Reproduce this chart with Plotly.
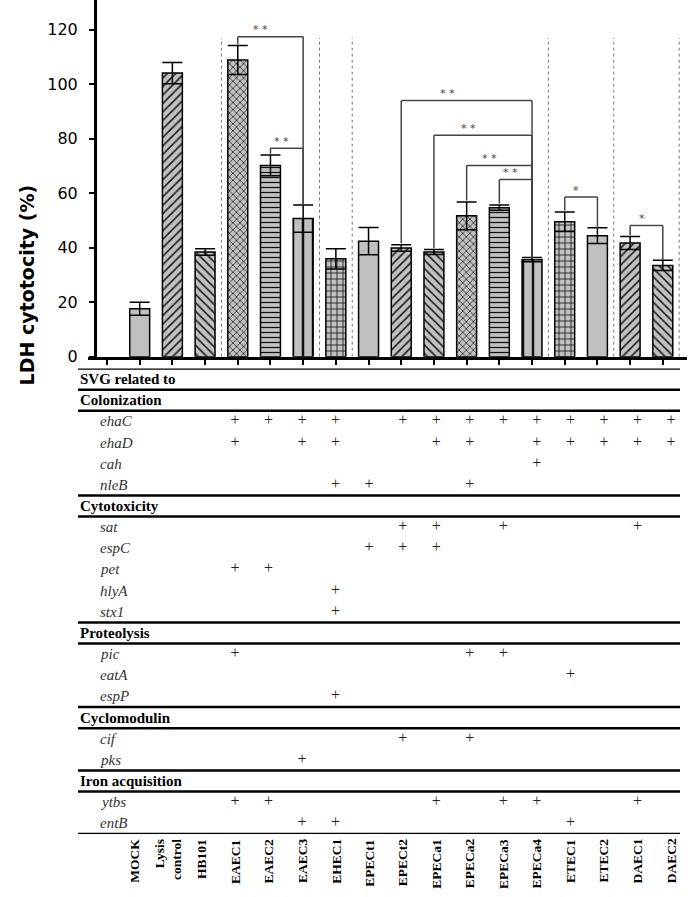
import plotly.graph_objects as go

# ---------------- data ----------------
strains = ["MOCK", "Lysis control", "HB101", "EAEC1", "EAEC2", "EAEC3", "EHEC1",
           "EPECt1", "EPECt2", "EPECa1", "EPECa2", "EPECa3", "EPECa4",
           "ETEC1", "ETEC2", "DAEC1", "DAEC2"]
strain_labels = ["MOCK", "Lysis<br>control", "HB101", "EAEC1", "EAEC2", "EAEC3", "EHEC1",
                 "EPECt1", "EPECt2", "EPECa1", "EPECa2", "EPECa3", "EPECa4",
                 "ETEC1", "ETEC2", "DAEC1", "DAEC2"]
ldh = [17.6, 104.1, 38.4, 108.9, 70.2, 50.7, 35.9,
       42.4, 39.9, 38.4, 51.7, 54.7, 35.6,
       49.5, 44.4, 41.7, 33.5]
ldh_err = [2.4, 3.9, 1.2, 5.3, 3.8, 5.0, 3.7,
           5.0, 1.2, 0.9, 5.1, 1.0, 0.8,
           3.6, 2.9, 2.4, 1.9]
patterns = ["", "/", "\\", "x", "-", "|", "+",
            "", "/", "\\", "x", "-", "|",
            "+", "", "/", "\\"]

# group separators (between strains)
separators_after = ["HB101", "EAEC3", "EHEC1", "EPECa4", "ETEC2", "DAEC2"]

# significance comparisons: (left, right, bracket height, label)
comparisons = [
    ("EAEC1", "EAEC3", 117.4, "* *"),
    ("EAEC2", "EAEC3", 76.5, "* *"),
    ("EPECt2", "EPECa4", 94.0, "* *"),
    ("EPECa1", "EPECa4", 81.3, "* *"),
    ("EPECa2", "EPECa4", 70.2, "* *"),
    ("EPECa3", "EPECa4", 65.0, "* *"),
    ("ETEC1", "ETEC2", 58.6, "*"),
    ("DAEC1", "DAEC2", 48.1, "*"),
]

# gene table: sections -> genes -> strains carrying "+"
table = [
    ("Colonization", [
        ("ehaC", ["EAEC1", "EAEC2", "EAEC3", "EHEC1", "EPECt2", "EPECa1", "EPECa2",
                  "EPECa3", "EPECa4", "ETEC1", "ETEC2", "DAEC1", "DAEC2"]),
        ("ehaD", ["EAEC1", "EAEC3", "EHEC1", "EPECa1", "EPECa2", "EPECa4",
                  "ETEC1", "ETEC2", "DAEC1", "DAEC2"]),
        ("cah", ["EPECa4"]),
        ("nleB", ["EHEC1", "EPECt1", "EPECa2"]),
    ]),
    ("Cytotoxicity", [
        ("sat", ["EPECt2", "EPECa1", "EPECa3", "DAEC1"]),
        ("espC", ["EPECt1", "EPECt2", "EPECa1"]),
        ("pet", ["EAEC1", "EAEC2"]),
        ("hlyA", ["EHEC1"]),
        ("stx1", ["EHEC1"]),
    ]),
    ("Proteolysis", [
        ("pic", ["EAEC1", "EPECa2", "EPECa3"]),
        ("eatA", ["ETEC1"]),
        ("espP", ["EHEC1"]),
    ]),
    ("Cyclomodulin", [
        ("cif", ["EPECt2", "EPECa2"]),
        ("pks", ["EAEC3"]),
    ]),
    ("Iron acquisition", [
        ("ytbs", ["EAEC1", "EAEC2", "EPECa1", "EPECa3", "EPECa4", "DAEC1"]),
        ("entB", ["EAEC3", "EHEC1", "ETEC1"]),
    ]),
]
table_title = "SVG related to"
y_ticks = [0, 20, 40, 60, 80, 100, 120]

# ---------------- layout constants ----------------
W, H = 688, 897
GRAY = "#c0c0c0"
def px_x(p):
    return p / W
def px_y(p):
    return 1 - p / H

pos = {s: i + 1 for i, s in enumerate(strains)}
xs = [pos[s] for s in strains]

fig = go.Figure()

fig.add_trace(go.Bar(
    x=xs, y=ldh, width=0.61,
    marker=dict(color=GRAY, line=dict(color="black", width=1.5),
                pattern=dict(shape=patterns,
                             size=[10 if p == "|" else (5 if p in ("x", "-") else 6) for p in patterns],
                             solidity=0.25, fgcolor="#111", bgcolor=GRAY, fillmode="replace")),
    error_y=dict(type="data", array=ldh_err, color="black", thickness=1.5, width=10),
    xaxis="x", yaxis="y", showlegend=False, hoverinfo="skip",
))

shapes = []
annotations = []

# dotted separators
for s in separators_after:
    xv = pos[s] + 0.5
    shapes.append(dict(type="line", xref="x", yref="y", x0=xv, x1=xv, y0=0, y1=117,
                       line=dict(color="#777", width=1, dash="dot")))

# significance brackets
BR = dict(color="#444", width=1.5)
for a, b, h, lab in comparisons:
    xa, xb = pos[a], pos[b]
    ta = ldh[strains.index(a)] + ldh_err[strains.index(a)]
    tb = ldh[strains.index(b)] + ldh_err[strains.index(b)]
    shapes.append(dict(type="line", xref="x", yref="y", x0=xa, x1=xb, y0=h, y1=h, line=BR))
    shapes.append(dict(type="line", xref="x", yref="y", x0=xa, x1=xa, y0=h, y1=ta + 0.5, line=BR))
    shapes.append(dict(type="line", xref="x", yref="y", x0=xb, x1=xb, y0=h, y1=tb, line=BR))
    annotations.append(dict(xref="x", yref="y", x=xa + 0.35 * (xb - xa), y=h, text=lab,
                            showarrow=False, yanchor="middle", yshift=7,
                            font=dict(family="DejaVu Sans", size=11, color="#444")))

# y axis title
annotations.append(dict(xref="paper", yref="paper", x=px_x(14), y=px_y(185),
                        text="<b>LDH cytotocity (%)</b>", textangle=-90, showarrow=False,
                        font=dict(family="DejaVu Sans", size=19, color="black")))

# ---------------- table ----------------
rows_total = 1 + sum(1 + len(g) for _, g in table)
boundaries = [0, 1]
row = 1
annotations.append(dict(xref="paper", yref="y2", x=px_x(78), y=0.5, xanchor="left",
                        text="<b>" + table_title + "</b>", showarrow=False,
                        font=dict(family="Liberation Serif", size=15, color="black")))
plus_x, plus_y = [], []
for sec, genes in table:
    annotations.append(dict(xref="paper", yref="y2", x=px_x(78), y=row + 0.5, xanchor="left",
                            text="<b>" + sec + "</b>", showarrow=False,
                            font=dict(family="Liberation Serif", size=15, color="black")))
    row += 1
    boundaries.append(row)
    for g, carriers in genes:
        annotations.append(dict(xref="paper", yref="y2", x=px_x(98), y=row + 0.5,
                                text="<i>" + g + "</i>", showarrow=False,
                                font=dict(family="Liberation Serif", size=15, color="#333")))
        for c in carriers:
            plus_x.append(pos[c])
            plus_y.append(row + 0.5)
        row += 1
    boundaries.append(row)

for bnd in sorted(set(boundaries)):
    shapes.append(dict(type="line", xref="paper", yref="y2", x0=px_x(78), x1=px_x(680),
                       y0=bnd, y1=bnd, line=dict(color="black", width=2.5)))

fig.add_trace(go.Scatter(x=plus_x, y=plus_y, mode="text", text=["+"] * len(plus_x),
                         textfont=dict(family="Liberation Serif", size=16, color="#222"),
                         xaxis="x2", yaxis="y2", showlegend=False, hoverinfo="skip"))

for s, lab in zip(strains, strain_labels):
    annotations.append(dict(xref="x2", yref="paper", x=pos[s], y=px_y(847), yanchor="top",
                            text="<b>" + lab + "</b>", textangle=-90, showarrow=False, align="right",
                            borderpad=0,
                            font=dict(family="Liberation Serif", size=13.5, color="black")))

fig.update_layout(
    width=W, height=H, margin=dict(l=0, r=0, t=0, b=0),
    paper_bgcolor="white", plot_bgcolor="white",
    xaxis=dict(domain=[px_x(88), px_x(687)], range=[-0.581, 17.74], anchor="y",
               tickvals=list(range(0, len(strains) + 1)), ticktext=[""] * (len(strains) + 1),
               ticks="outside", ticklen=5, tickwidth=2, tickcolor="black",
               showline=True, linewidth=3, linecolor="black", showgrid=False, zeroline=False),
    yaxis=dict(domain=[px_y(360.7), 1], range=[0, 130.9], anchor="free", position=px_x(95),
               tickvals=y_ticks, ticks="outside", ticklen=5, tickwidth=1.5, tickcolor="black",
               ticklabelstandoff=8,
               tickfont=dict(family="DejaVu Sans", size=16, color="black"),
               showline=True, linewidth=3, linecolor="black", showgrid=False, zeroline=False),
    xaxis2=dict(domain=[px_x(95), px_x(687)], range=[-0.171, 17.474], anchor="y2", visible=False),
    yaxis2=dict(domain=[px_y(843.3), px_y(372.7)], range=[rows_total, 0], anchor="x2", visible=False),
    shapes=shapes, annotations=annotations,
)

fig.write_html("out.html", config={"displayModeBar": False},
               post_script="document.body.style.margin='0';document.body.style.overflow='hidden';")
